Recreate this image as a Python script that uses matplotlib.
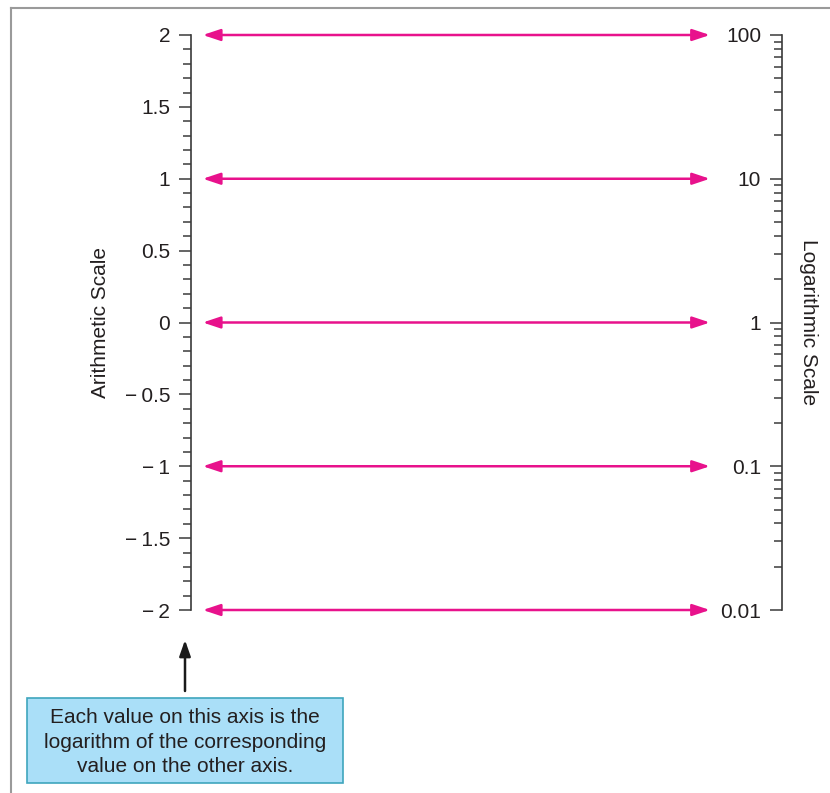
import matplotlib.pyplot as plt
from matplotlib.patches import Rectangle
from matplotlib.lines import Line2D
from matplotlib.ticker import FixedLocator, MultipleLocator, LogLocator, NullFormatter
import numpy as np

plt.rcParams['font.family'] = ['Liberation Sans', 'DejaVu Sans']

# data
arith_vals = [-2, -1, 0, 1, 2]
arith_ticks = [-2, -1.5, -1, -0.5, 0, 0.5, 1, 1.5, 2]
arith_labels = ['\u2212\u20092', '\u2212\u20091.5', '\u2212\u20091', '\u2212\u20090.5', '0', '0.5', '1', '1.5', '2']
log_ticks = [0.01, 0.1, 1, 10, 100]
log_labels = ['0.01', '0.1', '1', '10', '100']

W, H = 830, 793
fig = plt.figure(figsize=(W / 100, H / 100), dpi=100)

def fx(px):
    return px / W

def fy(py):
    return 1 - py / H

txt = '#231f20'
spine_c = '#3a3a3a'
pink = '#e8128c'

# left (arithmetic) axis
ax = fig.add_axes([fx(191), fy(610), fx(782) - fx(191), fy(35) - fy(610)])
ax.set_xlim(0, 1)
ax.set_ylim(-2, 2)
for s in ['top', 'right', 'bottom']:
    ax.spines[s].set_visible(False)
ax.spines['left'].set_color(spine_c)
ax.spines['left'].set_linewidth(1.2)
ax.set_xticks([])
ax.yaxis.set_major_locator(FixedLocator(arith_ticks))
ax.set_yticklabels(arith_labels)
ax.yaxis.set_minor_locator(MultipleLocator(0.1))
ax.tick_params(axis='y', which='major', length=9, width=1.1, color=spine_c,
               labelsize=15, labelcolor=txt, pad=6)
ax.tick_params(axis='y', which='minor', length=5.8, width=1.1, color=spine_c)
ax.patch.set_alpha(0)

# pink double arrows
for v in arith_vals:
    ax.annotate('', xy=(0.878, v), xytext=(0.02, v),
                arrowprops=dict(arrowstyle='<|-|>,head_length=0.75,head_width=0.25',
                                color=pink, lw=1.8,
                                mutation_scale=14, shrinkA=0, shrinkB=0))

# right (logarithmic) axis
ax2 = fig.add_axes([fx(782), fy(610), 0.001, fy(35) - fy(610)])
ax2.set_yscale('log')
ax2.set_ylim(0.01, 100)
for s in ['top', 'right', 'bottom']:
    ax2.spines[s].set_visible(False)
ax2.spines['left'].set_color(spine_c)
ax2.spines['left'].set_linewidth(1.2)
ax2.set_xticks([])
ax2.yaxis.set_major_locator(FixedLocator(log_ticks))
ax2.set_yticklabels(log_labels)
ax2.yaxis.set_minor_locator(LogLocator(base=10, subs=np.arange(2, 10)))
ax2.yaxis.set_minor_formatter(NullFormatter())
ax2.tick_params(axis='y', which='major', length=9, width=1.1, color=spine_c,
                labelsize=15, labelcolor=txt, pad=6)
ax2.tick_params(axis='y', which='minor', length=5.5, width=1.1, color=spine_c)
ax2.patch.set_alpha(0)

fig.text(fx(100), fy(322), 'Arithmetic Scale', rotation=90, ha='center', va='center',
         fontsize=15, color=txt)
fig.text(fx(808), fy(322), 'Logarithmic Scale', rotation=270, ha='center', va='center',
         fontsize=15, color=txt)

# note box and arrow
fig.add_artist(Rectangle((fx(27), fy(783)), fx(343) - fx(27), fy(698) - fy(783),
                         transform=fig.transFigure, facecolor='#aadff8',
                         edgecolor='#3fa6bd', lw=1.2))
fig.text(fx(185), fy(742), 'Each value on this axis is the\nlogarithm of the corresponding\nvalue on the other axis.',
         ha='center', va='center', fontsize=15, color=txt, linespacing=1.38)
fig.add_artist(Line2D([fx(11), fx(11)], [0, fy(8)], transform=fig.transFigure,
                      color='#9a9a9a', lw=1.5))
fig.add_artist(Line2D([fx(11), 1], [fy(8), fy(8)], transform=fig.transFigure,
                      color='#9a9a9a', lw=1.5))
ax.annotate('', xy=(fx(185), fy(640)), xytext=(fx(185), fy(691)),
            xycoords='figure fraction', textcoords='figure fraction',
            arrowprops=dict(arrowstyle='-|>,head_length=0.8,head_width=0.28', color='#1a1a1a', lw=1.8,
                            mutation_scale=12, shrinkA=0, shrinkB=0))

fig.savefig('out.png', dpi=100)
